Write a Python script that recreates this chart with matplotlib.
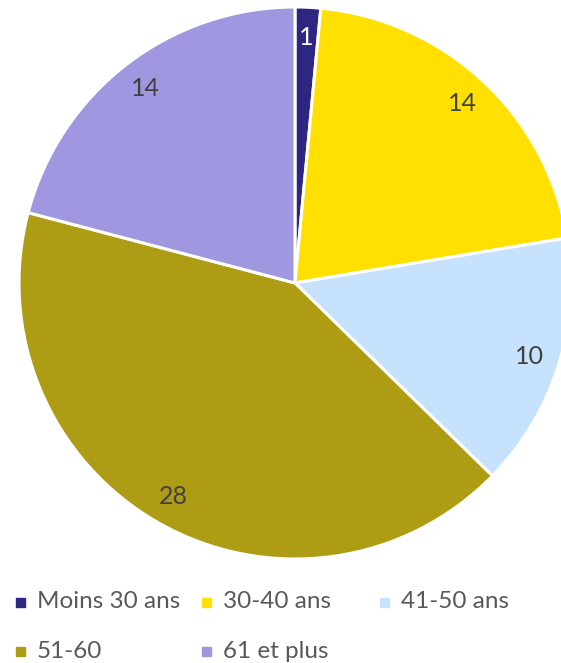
import matplotlib.pyplot as plt
from matplotlib.patches import Rectangle

labels = ["Moins 30 ans", "30-40 ans", "41-50 ans", "51-60", "61 et plus"]
values = [1, 14, 10, 28, 14]
colors = ["#2E2782", "#FFE000", "#C6E2FC", "#AE9C14", "#9F97DF"]
label_colors = ["white", "#404040", "#404040", "#404040", "#404040"]

plt.rcParams['font.family'] = ['Lato', 'DejaVu Sans']

fig = plt.figure(figsize=(5.61, 6.63), dpi=100)
W, H = 561, 663
# axes box in pixels: centre (295, 283), radius 276
cx, cy, r = 295, 283, 276
ax = fig.add_axes([(cx - r) / W, (H - cy - r) / H, 2 * r / W, 2 * r / H])

wedges, texts = ax.pie(values, labels=[str(v) for v in values], colors=colors,
                       startangle=90, counterclock=False, labeldistance=0.89,
                       wedgeprops=dict(edgecolor="white", linewidth=2.2),
                       textprops=dict(fontsize=18))
for t, c in zip(texts, label_colors):
    t.set_color(c)
    t.set_ha("center")
    t.set_va("center")
ax.set_xlim(-1, 1)
ax.set_ylim(-1, 1)
ax.set_aspect("equal")
ax.axis("off")

# legend, laid out like the original (equal columns)
pos = [(16, 602), (202, 602), (380, 602), (16, 651), (202, 651)]
for (x, y), lab, col in zip(pos, labels, colors):
    fig.add_artist(Rectangle((x / W, (H - y - 4.5) / H), 9 / W, 9 / H,
                             transform=fig.transFigure, color=col))
    fig.text((x + 21) / W, (H - y) / H, lab, fontsize=17.5, color="#595959",
             ha="left", va="center")

fig.savefig("out.png", dpi=100)
